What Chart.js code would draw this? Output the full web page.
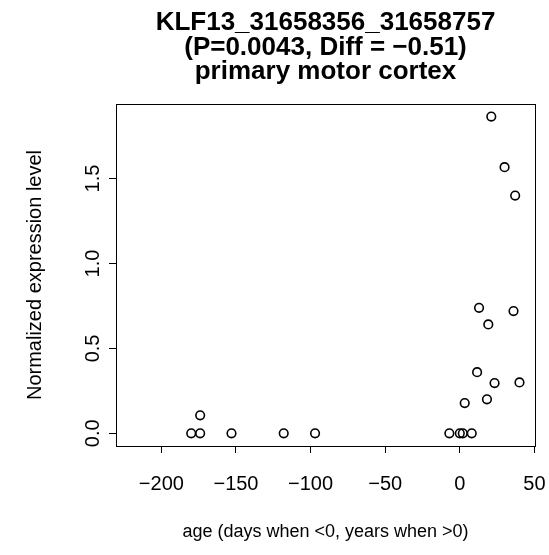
<!DOCTYPE html>
<html>
<head>
<meta charset="utf-8">
<script src="https://cdn.jsdelivr.net/npm/chart.js@4"></script>
<style>
  body { margin: 0; background: #fff; }
  canvas { display: block; }
</style>
</head>
<body>
<canvas id="plot" width="549" height="555"></canvas>
<script>
const titleLines = ['KLF13_31658356_31658757', '(P=0.0043, Diff = \u22120.51)', 'primary motor cortex'];
const xLabel = 'age (days when <0, years when >0)';
const yLabel = 'Normalized expression level';

const ages = [-180, -174, -174, -153, -118, -97, -7, 0, 2, 8, 3.3, 11.6, 12.9, 18.2, 19.1, 21.1, 23.3, 30, 36, 37.1, 40];
const expr = [0, 0, 0.106, 0, 0, 0, 0, 0, 0, 0, 0.178, 0.36, 0.739, 0.20, 0.641, 1.865, 0.296, 1.567, 0.72, 1.40, 0.30];

const xTicks = [-200, -150, -100, -50, 0, 50];
const yTicks = [0, 0.5, 1.0, 1.5];

const FONT = '"Liberation Sans", Arial, Helvetica, sans-serif';
const minus = v => String(v).replace('-', '\u2212');

// box, titles, rotated y tick labels and axis titles
const extras = {
  id: 'extras',
  afterDraw(chart) {
    const ctx = chart.ctx;
    const a = chart.chartArea;
    const y = chart.scales.y;
    ctx.save();
    ctx.strokeStyle = '#000';
    ctx.lineWidth = 1;
    ctx.strokeRect(a.left + 0.5, a.top + 0.5, a.right - a.left, a.bottom - a.top);

    ctx.fillStyle = '#000';
    ctx.textAlign = 'center';
    ctx.textBaseline = 'middle';
    const cx = (a.left + a.right) / 2;
    ctx.font = 'bold 26px ' + FONT;
    titleLines.forEach((t, i) => ctx.fillText(t, cx, 23 + i * 24.5));

    ctx.font = '18px ' + FONT;
    ctx.fillText(xLabel, cx, 532);

    ctx.font = '20px ' + FONT;
    yTicks.forEach(v => {
      ctx.save();
      ctx.translate(93, y.getPixelForValue(v));
      ctx.rotate(-Math.PI / 2);
      ctx.fillText(v.toFixed(1), 0, 0);
      ctx.restore();
    });

    ctx.translate(35, (a.top + a.bottom) / 2);
    ctx.rotate(-Math.PI / 2);
    ctx.fillText(yLabel, 0, 0);
    ctx.restore();
  }
};

new Chart(document.getElementById('plot'), {
  type: 'scatter',
  data: {
    datasets: [{
      data: ages.map((x, i) => ({ x, y: expr[i] })),
      pointStyle: 'circle',
      pointRadius: 4.3,
      pointHoverRadius: 4.3,
      borderWidth: 1.6,
      borderColor: '#000',
      backgroundColor: 'rgba(0,0,0,0)'
    }]
  },
  options: {
    responsive: false,
    animation: false,
    devicePixelRatio: 1,
    layout: { padding: { left: 0, right: 14, top: 104, bottom: 0 } },
    plugins: { legend: { display: false }, tooltip: { enabled: false }, title: { display: false } },
    scales: {
      x: {
        type: 'linear',
        min: -230.4,
        max: 50.4,
        afterBuildTicks: s => { s.ticks = xTicks.map(v => ({ value: v })); },
        afterFit: s => { s.height = 109; s.paddingLeft = 0; s.paddingRight = 0; },
        grid: { display: true, drawOnChartArea: false, drawTicks: true, tickLength: 7, color: '#000', lineWidth: 1 },
        border: { display: true, color: '#000' },
        ticks: {
          autoSkip: false,
          maxRotation: 0,
          padding: 19,
          color: '#000',
          font: { family: FONT, size: 20 },
          callback: v => minus(v)
        }
      },
      y: {
        type: 'linear',
        min: -0.0746,
        max: 1.939,
        afterBuildTicks: s => { s.ticks = yTicks.map(v => ({ value: v })); },
        afterFit: s => { s.width = 116; s.paddingTop = 0; s.paddingBottom = 0; },
        grid: { display: true, drawOnChartArea: false, drawTicks: true, tickLength: 7, color: '#000', lineWidth: 1 },
        border: { display: true, color: '#000' },
        ticks: { display: false }
      }
    }
  },
  plugins: [extras]
});
</script>
</body>
</html>
